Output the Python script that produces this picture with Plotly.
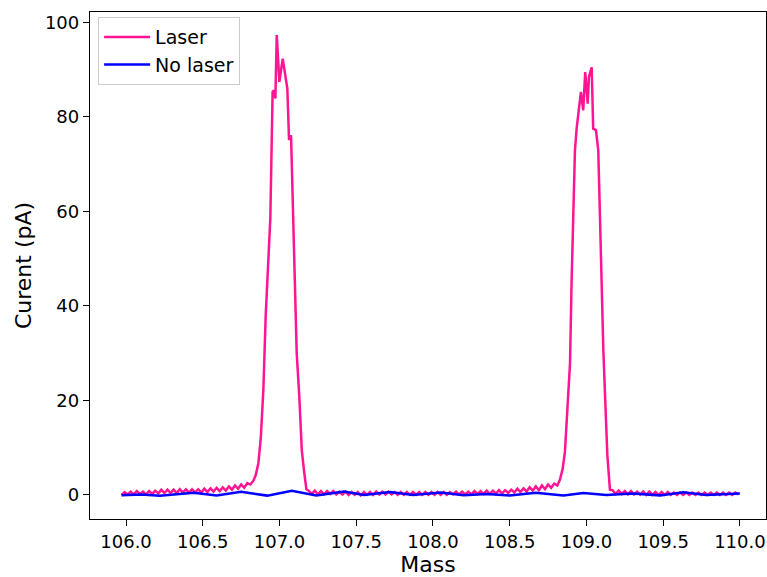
import plotly.graph_objects as go

# ---- Laser trace (mass, current in pA) ----
mass_laser = [
    105.97, 105.99, 106.01, 106.03, 106.05, 106.07, 106.09, 106.11, 106.13, 106.15,
    106.17, 106.19, 106.21, 106.23, 106.25, 106.27, 106.29, 106.31, 106.33, 106.35,
    106.37, 106.39, 106.41, 106.43, 106.45, 106.47, 106.49, 106.51, 106.53, 106.55,
    106.57, 106.59, 106.61, 106.63, 106.65, 106.67, 106.69, 106.71, 106.73, 106.75,
    106.77, 106.79, 106.81, 106.83,
    106.845, 106.862, 106.878, 106.895, 106.91, 106.925, 106.935, 106.94, 106.955, 106.964,
    106.973, 106.982, 106.999, 107.021, 107.051, 107.062, 107.075, 107.112, 107.129, 107.145,
    107.16, 107.175,
    107.19, 107.21, 107.23, 107.25, 107.27, 107.29, 107.31, 107.33, 107.35, 107.37,
    107.39, 107.41, 107.43, 107.45, 107.47, 107.49, 107.51, 107.53, 107.55, 107.57,
    107.59, 107.61, 107.63, 107.65, 107.67, 107.69, 107.71, 107.73, 107.75, 107.77,
    107.79, 107.81, 107.83, 107.85, 107.87, 107.89, 107.91, 107.93, 107.95, 107.97,
    107.99, 108.01, 108.03, 108.05, 108.07, 108.09, 108.11, 108.13, 108.15, 108.17,
    108.19, 108.21, 108.23, 108.25, 108.27, 108.29, 108.31, 108.33, 108.35, 108.37,
    108.39, 108.41, 108.43, 108.45, 108.47, 108.49, 108.51, 108.53, 108.55, 108.57,
    108.59, 108.61, 108.63, 108.65, 108.67, 108.69, 108.71, 108.73, 108.75, 108.77,
    108.79, 108.81,
    108.827, 108.845, 108.86, 108.875, 108.893, 108.903, 108.915, 108.925, 108.936, 108.964,
    108.979, 108.992, 109.008, 109.016, 109.034, 109.044, 109.062, 109.077, 109.095, 109.11,
    109.136, 109.153, 109.17,
    109.19, 109.21, 109.23, 109.25, 109.27, 109.29, 109.31, 109.33, 109.35, 109.37,
    109.39, 109.41, 109.43, 109.45, 109.47, 109.49, 109.51, 109.53, 109.55, 109.57,
    109.59, 109.61, 109.63, 109.65, 109.67, 109.69, 109.71, 109.73, 109.75, 109.77,
    109.79, 109.81, 109.83, 109.85, 109.87, 109.89, 109.91, 109.93, 109.95, 109.97,
    109.99,
]
current_laser = [
    0.0, 0.6, 0.1, 0.7, 0.1, 0.8, 0.2, 0.7, 0.1, 0.8,
    0.2, 0.9, 0.3, 1.1, 0.4, 1.1, 0.4, 1.1, 0.4, 1.2,
    0.5, 1.2, 0.5, 1.2, 0.5, 1.2, 0.5, 1.3, 0.6, 1.4,
    0.7, 1.5, 0.8, 1.6, 0.9, 1.8, 1.1, 2.0, 1.3, 2.2,
    1.5, 2.5, 2.2, 3.0,
    4.2, 6.7, 12.0, 22.5, 38.0, 50.0, 56.0, 58.5, 85.3, 85.6,
    83.9, 97.3, 87.4, 92.3, 86.0, 75.1, 76.1, 30.0, 20.8, 9.5,
    5.0, 1.2,
    0.9, 0.2, 0.9, 0.1, 0.8, 0.1, 0.8, 0.2, 0.8, 0.1,
    0.7, 0.1, 0.7, 0.0, 0.6, 0.0, 0.6, -0.1, 0.6, 0.0,
    0.6, 0.0, 0.7, 0.1, 0.7, 0.1, 0.7, 0.1, 0.6, 0.0,
    0.6, 0.0, 0.6, 0.0, 0.6, 0.0, 0.6, 0.0, 0.6, 0.0,
    0.6, 0.0, 0.6, 0.0, 0.6, 0.0, 0.6, 0.1, 0.7, 0.1,
    0.7, 0.1, 0.7, 0.1, 0.8, 0.2, 0.8, 0.2, 0.9, 0.2,
    0.9, 0.3, 1.0, 0.3, 1.0, 0.4, 1.1, 0.5, 1.3, 0.6,
    1.4, 0.7, 1.6, 0.9, 1.8, 1.0, 2.0, 1.2, 2.2, 1.5,
    2.4, 2.0,
    3.2, 5.5, 9.2, 18.0, 27.9, 44.8, 62.0, 72.9, 77.5, 85.3,
    81.4, 89.5, 82.8, 88.4, 90.5, 77.5, 77.2, 72.9, 50.0, 30.7,
    8.5, 1.1, 1.0,
    0.2, 0.9, 0.2, 0.8, 0.1, 0.8, 0.1, 0.7, 0.1, 0.7,
    0.0, 0.7, 0.0, 0.6, 0.0, 0.6, 0.0, 0.6, 0.0, 0.5,
    0.0, 0.5, 0.0, 0.5, 0.0, 0.5, 0.0, 0.5, 0.0, 0.5,
    0.0, 0.5, 0.0, 0.5, 0.0, 0.5, 0.0, 0.5, 0.0, 0.5,
    0.1,
]

# ---- No-laser trace ----
mass_nolaser = [
    105.97, 106.10, 106.22, 106.44, 106.59, 106.75, 106.92, 107.08, 107.24, 107.42,
    107.55, 107.72, 107.87, 108.05, 108.20, 108.35, 108.50, 108.67, 108.85, 108.98,
    109.13, 109.30, 109.48, 109.63, 109.78, 109.95, 110.00,
]
current_nolaser = [
    -0.1, 0.1, -0.2, 0.45, -0.15, 0.65, -0.15, 0.9, -0.1, 0.7,
    0.0, 0.6, 0.0, 0.5, -0.05, 0.2, -0.15, 0.45, -0.1, 0.4,
    0.0, 0.3, -0.1, 0.55, 0.0, 0.35, 0.3,
]

x_ticks = [106.0, 106.5, 107.0, 107.5, 108.0, 108.5, 109.0, 109.5, 110.0]
y_ticks = [0, 20, 40, 60, 80, 100]

FONT = "DejaVu Sans"

fig = go.Figure()
fig.add_trace(go.Scatter(x=mass_laser, y=current_laser, mode="lines", name="Laser",
                         line=dict(color="#FF1493", width=2.5)))
fig.add_trace(go.Scatter(x=mass_nolaser, y=current_nolaser, mode="lines", name="No laser",
                         line=dict(color="#0000FF", width=2.5)))

axis_common = dict(showline=True, linecolor="black", linewidth=1.3, mirror=True,
                   ticks="outside", ticklen=6, tickwidth=1.3, tickcolor="black",
                   showgrid=False, zeroline=False, automargin=False,
                   tickfont=dict(family=FONT, size=18, color="black"))

fig.update_layout(
    width=767, height=577,
    margin=dict(l=90, r=1, t=12, b=58),
    plot_bgcolor="white", paper_bgcolor="white",
    font=dict(family=FONT, color="black"),
    xaxis=dict(range=[105.765, 110.17], tickvals=x_ticks, tickformat=".1f",
               title=dict(text="Mass", font=dict(family=FONT, size=22), standoff=5),
               **axis_common),
    yaxis=dict(range=[-5.1, 102.2], tickvals=y_ticks,
               title=dict(text="Curent (pA)", font=dict(family=FONT, size=22), standoff=7),
               **axis_common),
    showlegend=True,
    legend=dict(x=0.012, y=0.99, xanchor="left", yanchor="top",
                bgcolor="white", bordercolor="#cccccc", borderwidth=1,
                font=dict(family=FONT, size=19, color="black"),
                itemwidth=46, tracegroupgap=2),
)

# Remove the default 8px page margin so the figure fills the 767x577 window.
fig.write_html("out.html",
               config={"displayModeBar": False},
               post_script="document.body.style.margin='0px';document.body.style.overflow='hidden';")
